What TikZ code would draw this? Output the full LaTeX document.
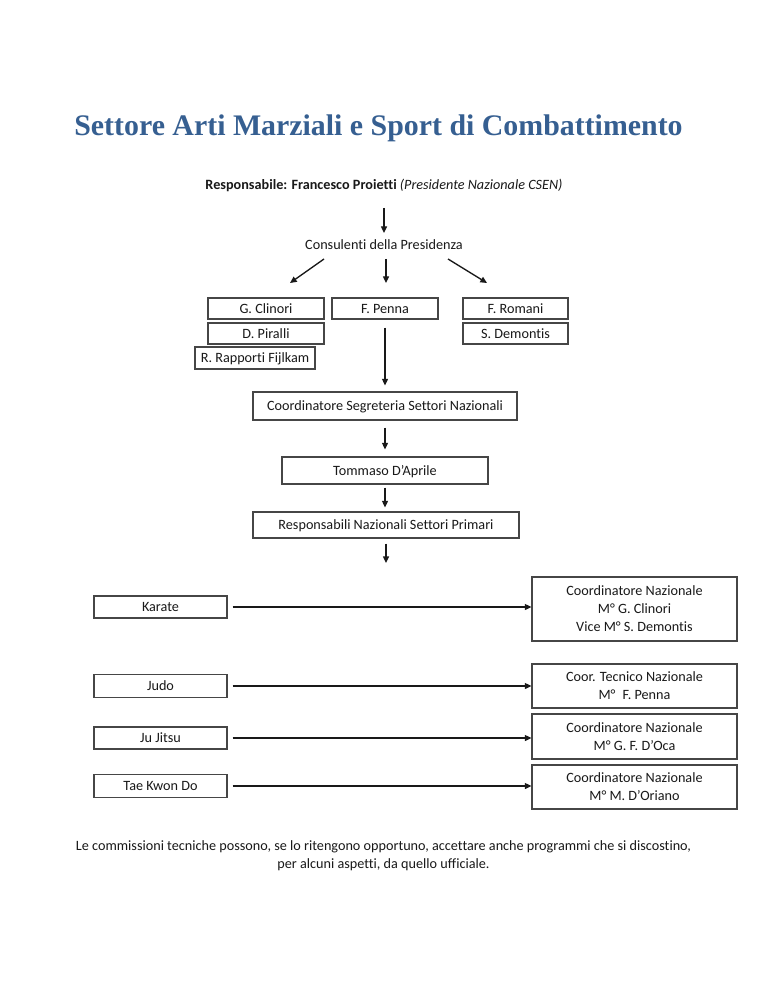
\documentclass[tikz,border=0pt]{standalone}
\usepackage{fontspec}
\setmainfont{Carlito}[Ligatures=CommonOff]
\newfontfamily\titlefont{Liberation Serif}
\usetikzlibrary{arrows.meta}
\definecolor{titleblue}{RGB}{54,95,145}
\definecolor{boxline}{RGB}{70,70,70}
\begin{document}
\begin{tikzpicture}[x=0.75pt,y=-0.75pt,
  every node/.style={font=\fontsize{10.65}{13.5}\selectfont, text=black!90},
  box/.style={draw=boxline, line width=0.8pt, inner sep=0pt, align=center},
  one/.style={text height=8pt, text depth=1.2pt},
  wh/.style 2 args={minimum width=#1*0.75pt, minimum height=#2*0.75pt},
  arr/.style={-{Triangle[length=5pt,width=4.5pt]}, line width=1pt, black!90},
  ]
\useasboundingbox (0,0) rectangle (768,994);
\fill[white] (0,0) rectangle (768,994);

% title and header
\node[anchor=base, font=\titlefont\bfseries\fontsize{22.4}{26}\selectfont, text=titleblue] (title) at (378.5,136) {Settore Arti Marziali e Sport di Combattimento};
\node[anchor=base] (resp) at (384,190) {\textbf{Responsabile: Francesco Proietti} \textit{(Presidente Nazionale CSEN)}};
\node[anchor=base] (cons) at (384,250) {Consulenti della Presidenza};

\coordinate (a0s) at (384,208);
\coordinate (a0e) at (384,233);
\draw[arr] (a0s) -- (a0e);

\coordinate (fl1) at (324,259);
\coordinate (fl2) at (290,283);
\coordinate (fm1) at (386,259);
\coordinate (fm2) at (386,283);
\coordinate (fr1) at (448,259);
\coordinate (fr2) at (487,283);
\draw[arr] (fl1) -- (fl2);
\draw[arr] (fm1) -- (fm2);
\draw[arr] (fr1) -- (fr2);

% consultants
\node[box, one, wh={116}{21}] (clinori) at (266,308.5) {G. Clinori};
\node[box, one, wh={106}{21}] (penna) at (385,308.5) {F. Penna};
\node[box, one, wh={105}{21}] (romani) at (515.5,308.5) {F. Romani};
\node[box, one, wh={116}{21}] (piralli) at (266,333.5) {D. Piralli};
\node[box, one, wh={105}{21}] (demontis) at (515.5,333.5) {S. Demontis};
\node[box, one, wh={120}{22}] (rapporti) at (255,358) {R. Rapporti Fijlkam};

% central chain
\node[box, one, wh={264}{28}] (segr) at (385,406) {Coordinatore Segreteria Settori Nazionali};
\node[box, one, wh={206}{27}] (tommaso) at (385,470.5) {Tommaso D’Aprile};
\node[box, one, wh={266}{26}] (respnaz) at (386,525) {Responsabili Nazionali Settori Primari};
\coordinate (down) at (386,563);

\draw[arr, shorten <=6pt, shorten >=4.5pt] (penna.south) -- (penna.south |- segr.north);
\draw[arr, shorten <=5.25pt, shorten >=5.25pt] (segr.south) -- (segr.south |- tommaso.north);
\draw[arr, shorten <=2.25pt, shorten >=3pt] (tommaso.south) -- (tommaso.south |- respnaz.north);
\draw[arr, shorten <=3.75pt] (respnaz.south) -- (down);

% sectors
\node[box, one, wh={133}{22}] (karate) at (160.5,607) {Karate};
\node[box, one, wh={133}{23}] (judo) at (160.5,686) {Judo};
\node[box, one, wh={133}{22}] (jujitsu) at (160.5,738) {Ju Jitsu};
\node[box, one, wh={133}{23}] (tkd) at (160.5,786) {Tae Kwon Do};

\node[box, wh={205}{64}] (kr) at (634.5,609) {Coordinatore Nazionale\\M° G. Clinori\\Vice M° S. Demontis};
\node[box, wh={205}{44}] (jr) at (634.5,686) {Coor. Tecnico Nazionale\\M°\enspace F. Penna};
\node[box, wh={205}{45}] (jjr) at (634.5,736.5) {Coordinatore Nazionale\\M° G. F. D’Oca};
\node[box, wh={205}{44}] (tr) at (634.5,787) {Coordinatore Nazionale\\M° M. D’Oriano};

\draw[arr, shorten <=3.75pt] (karate.east) -- (karate.east -| kr.west);
\draw[arr, shorten <=3.75pt] (judo.east) -- (judo.east -| jr.west);
\draw[arr, shorten <=3.75pt] (jujitsu.east) -- (jujitsu.east -| jjr.west);
\draw[arr, shorten <=3.75pt] (tkd.east) -- (tkd.east -| tr.west);

% note
\node[align=center] (note) at (383.5,856) {Le commissioni tecniche possono, se lo ritengono opportuno, accettare anche programmi che si discostino,\\per alcuni aspetti, da quello ufficiale.};
\end{tikzpicture}
\end{document}
